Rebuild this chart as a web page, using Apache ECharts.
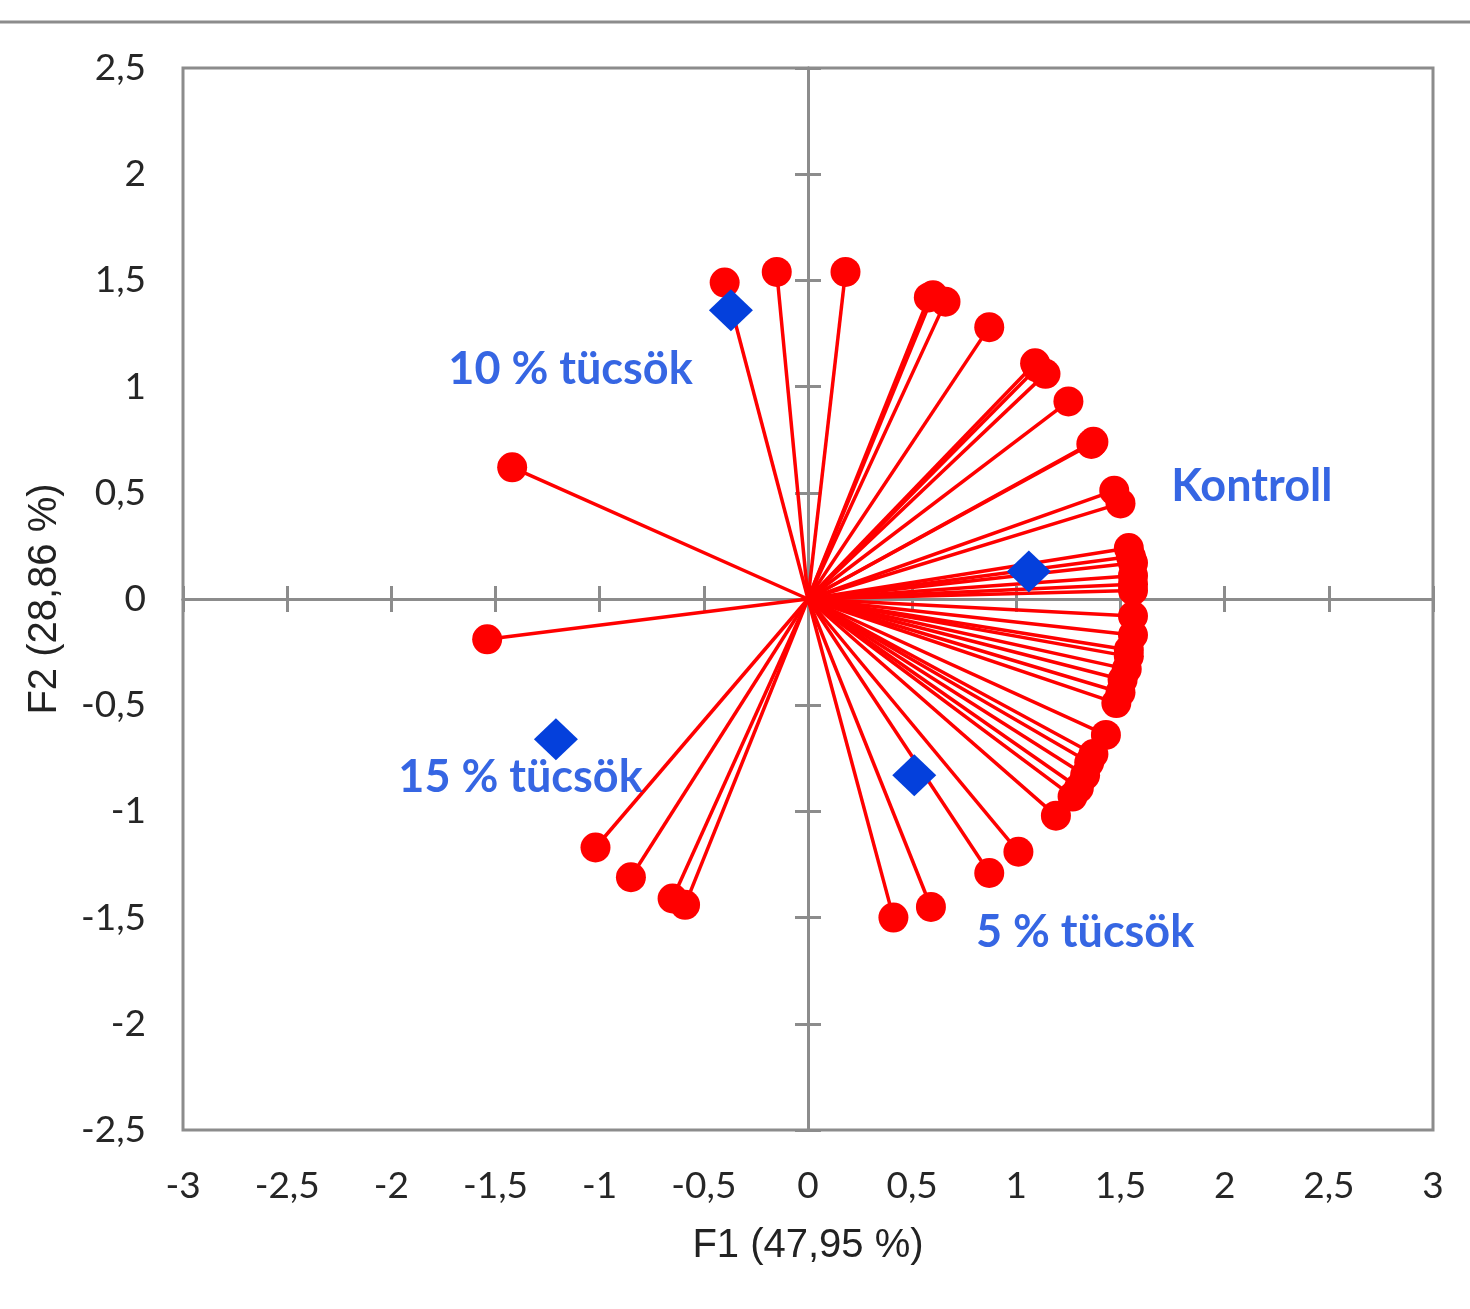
<!DOCTYPE html>
<html>
<head>
<meta charset="utf-8">
<script src="https://cdn.jsdelivr.net/npm/echarts@6/dist/echarts.min.js"></script>
<style>
html,body{margin:0;padding:0;background:#fff;}
#chart{width:1470px;height:1309px;}
</style>
</head>
<body>
<div id="chart"></div>
<script>
// Variable loadings (F1, F2)
const loadingsF1 = [-0.40,-0.15,0.18,0.60,0.58,0.66,0.87,1.09,1.10,1.14,1.25,1.37,1.36,1.47,1.50,
  1.54,1.55,1.56,1.56,1.56,1.56,1.56,1.56,1.54,1.54,1.53,1.51,1.50,1.48,1.43,1.37,1.35,1.33,1.30,1.27,
  1.19,1.01,0.87,0.59,0.41,-0.59,-0.65,-0.85,-1.02,-1.54,-1.42];
const loadingsF2 = [1.49,1.54,1.54,1.43,1.42,1.40,1.28,1.11,1.09,1.06,0.93,0.74,0.73,0.51,0.45,
  0.24,0.20,0.17,0.11,0.07,0.04,-0.08,-0.17,-0.24,-0.27,-0.33,-0.38,-0.44,-0.49,-0.64,-0.73,-0.77,-0.83,-0.89,-0.93,
  -1.02,-1.19,-1.29,-1.45,-1.50,-1.44,-1.41,-1.31,-1.17,-0.19,0.62];
// Observations (treatments)
const groupNames = ['10 % tücsök','Kontroll','15 % tücsök','5 % tücsök'];
const groupF1 = [-0.37,1.06,-1.21,0.51];
const groupF2 = [1.36,0.13,-0.66,-0.83];
// Label anchor positions (data units)
const labelF1 = [-1.14,2.13,-1.38,1.33];
const labelF2 = [1.08,0.53,-0.84,-1.57];
// Axes
const xMin = -3, xMax = 3, yMin = -2.5, yMax = 2.5, tickStep = 0.5;
const xTitle = 'F1 (47,95 %)';
const yTitle = 'F2 (28,86 %)';

const vectors = loadingsF1.map((x,i)=>[x, loadingsF2[i]]);
const groups = groupF1.map((x,i)=>({value:[x, groupF2[i]], name: groupNames[i]}));
const labels = labelF1.map((x,i)=>({value:[x, labelF2[i]], name: groupNames[i]}));

const fmt = v => String(v).replace('.', ',');
const gray = '#8c8c8c';
const blue = '#0440dc';

const zeroX = (pos) => ({
  type:'value', min:xMin, max:xMax, interval:tickStep, position:pos,
  axisLine:{show:true, onZero:true, lineStyle:{color:gray, width:3}},
  axisTick:{show:true, length:13, lineStyle:{color:gray, width:3}},
  axisLabel:{show:false}, splitLine:{show:false}
});
const zeroY = (pos) => ({
  type:'value', min:yMin, max:yMax, interval:tickStep, position:pos,
  axisLine:{show:true, onZero:true, lineStyle:{color:gray, width:3}},
  axisTick:{show:true, length:13, lineStyle:{color:gray, width:3}},
  axisLabel:{show:false}, splitLine:{show:false}
});

const chart = echarts.init(document.getElementById('chart'));
chart.setOption({
  animation:false,
  backgroundColor:'#fff',
  graphic:[{type:'line', shape:{x1:0,y1:22,x2:1470,y2:22}, style:{stroke:gray, lineWidth:3}}],
  grid:{left:183, right:37, top:68, bottom:179, show:true, borderColor:gray, borderWidth:3},
  xAxis:[
    {type:'value', min:xMin, max:xMax, interval:tickStep, position:'bottom',
     axisLine:{show:false, onZero:false}, axisTick:{show:false}, splitLine:{show:false},
     axisLabel:{formatter:fmt, fontFamily:'Lato', fontSize:37, color:'#262626', margin:38},
     name:xTitle, nameLocation:'middle', nameGap:96,
     nameTextStyle:{fontFamily:'Liberation Sans', fontSize:40, color:'#222'}},
    zeroX('bottom'), zeroX('top')
  ],
  yAxis:[
    {type:'value', min:yMin, max:yMax, interval:tickStep, position:'left',
     axisLine:{show:false, onZero:false}, axisTick:{show:false}, splitLine:{show:false},
     axisLabel:{formatter:fmt, fontFamily:'Lato', fontSize:37, color:'#262626', margin:37},
     name:yTitle, nameLocation:'middle', nameGap:118, nameRotate:90,
     nameTextStyle:{fontFamily:'Liberation Sans', fontSize:40, color:'#222'}},
    zeroY('left'), zeroY('right')
  ],
  series:[
    {type:'custom', xAxisIndex:0, yAxisIndex:0, data:vectors, z:3,
     renderItem:function(params, api){
       const p0 = api.coord([0,0]);
       const p1 = api.coord([api.value(0), api.value(1)]);
       return {type:'line', shape:{x1:p0[0], y1:p0[1], x2:p1[0], y2:p1[1]},
               style:{stroke:'#ff0000', lineWidth:3.5}};
     }},
    {type:'scatter', xAxisIndex:0, yAxisIndex:0, data:vectors, symbol:'circle', symbolSize:30, z:4,
     itemStyle:{color:'#ff0000', opacity:1}},
    {type:'scatter', xAxisIndex:0, yAxisIndex:0, data:groups, symbol:'diamond', symbolSize:[44,42], z:5,
     itemStyle:{color:blue, opacity:1}},
    {type:'scatter', xAxisIndex:0, yAxisIndex:0, data:labels, symbolSize:0, z:6, silent:true,
     label:{show:true, position:'inside', formatter:'{b}', fontFamily:'Lato', fontWeight:'bold', fontSize:45, color:blue}}
  ]
});
</script>
</body>
</html>
